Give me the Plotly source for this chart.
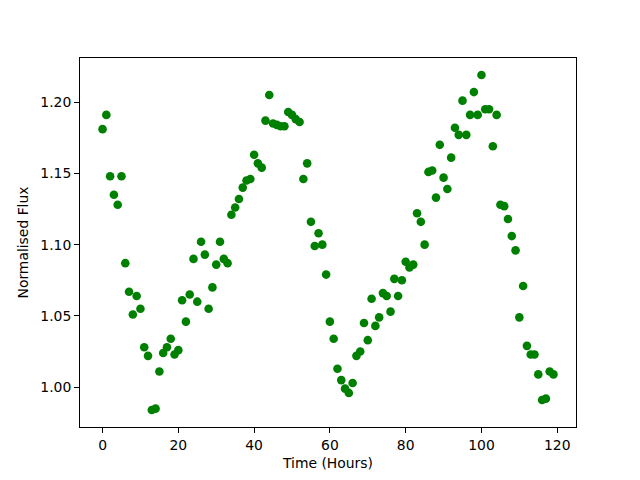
import plotly.graph_objects as go

time_hours = list(range(120))
flux = [
    1.181, 1.191, 1.148, 1.135, 1.128, 1.148, 1.087, 1.067, 1.051, 1.064,
    1.055, 1.028, 1.022, 0.984, 0.985, 1.011, 1.024, 1.028, 1.034, 1.023,
    1.026, 1.061, 1.046, 1.065, 1.090, 1.060, 1.102, 1.093, 1.055, 1.070,
    1.086, 1.102, 1.090, 1.087, 1.121, 1.126, 1.132, 1.140, 1.145, 1.146,
    1.163, 1.157, 1.154, 1.187, 1.205, 1.185, 1.184, 1.183, 1.183, 1.193,
    1.191, 1.188, 1.186, 1.146, 1.157, 1.116, 1.099, 1.108, 1.100, 1.079,
    1.046, 1.034, 1.013, 1.005, 0.999, 0.996, 1.003, 1.022, 1.025, 1.045,
    1.033, 1.062, 1.043, 1.049, 1.066, 1.064, 1.053, 1.076, 1.064, 1.075,
    1.088, 1.084, 1.086, 1.122, 1.116, 1.100, 1.151, 1.152, 1.133, 1.170,
    1.147, 1.139, 1.161, 1.182, 1.177, 1.201, 1.177, 1.191, 1.207, 1.191,
    1.219, 1.195, 1.195, 1.169, 1.191, 1.128, 1.127, 1.118, 1.106, 1.096,
    1.049, 1.071, 1.029, 1.023, 1.023, 1.009, 0.991, 0.992, 1.011, 1.009,
]
x_ticks = [0, 20, 40, 60, 80, 100, 120]
y_ticks = [1.00, 1.05, 1.10, 1.15, 1.20]

fig = go.Figure(go.Scatter(
    x=time_hours, y=flux, mode="markers",
    marker=dict(color="green", size=8.6, line=dict(width=0)),
))

font = dict(family="DejaVu Sans", size=13.9, color="black")
axis_common = dict(
    showgrid=False, zeroline=False, showline=True, linecolor="black",
    linewidth=1.1, mirror=True, ticks="outside", ticklen=4.9, tickwidth=1.1,
    tickcolor="black", tickfont=font, automargin=False,
)

# page body has an 8px margin: figure is 8px smaller, left/top offsets reduced
fig.update_layout(
    width=632, height=472, autosize=False,
    margin=dict(l=72, r=64, t=49.6, b=52.8, pad=0),
    paper_bgcolor="white", plot_bgcolor="white",
    font=font, showlegend=False,
    xaxis=dict(range=[-5.95, 124.95], tickvals=x_ticks,
               ticktext=[str(v) for v in x_ticks],
               title=dict(text="Time (Hours)", font=font, standoff=6),
               **axis_common),
    yaxis=dict(range=[0.9721, 1.2309], tickvals=y_ticks,
               ticktext=[f"{v:.2f}" for v in y_ticks],
               title=dict(text="Normalised Flux", font=font, standoff=8),
               **axis_common),
)

fig.write_html("out.html")
